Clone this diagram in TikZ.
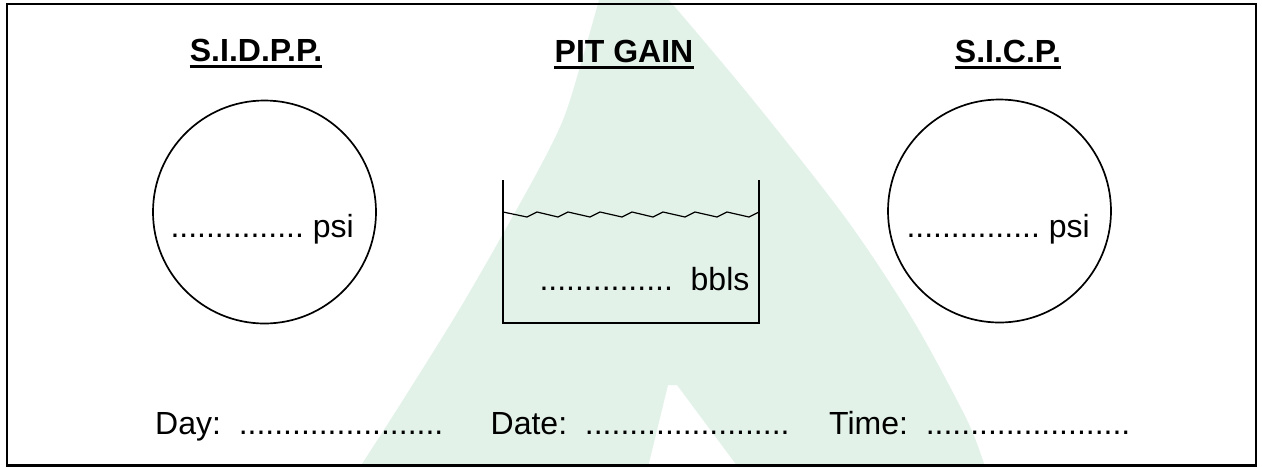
\documentclass[tikz,border=0pt]{standalone}
\usepackage{fontspec}
\setmainfont{Liberation Sans}
\definecolor{wm}{RGB}{226,242,232}
\begin{document}
\begin{tikzpicture}[x=1pt,y=-1pt,
  txt/.style={inner sep=0pt, anchor=base west, font=\fontsize{32}{38}\selectfont},
  ttl/.style={inner sep=0pt, anchor=base, font=\fontsize{32}{38}\selectfont\bfseries},
  uline/.style={line width=2.6pt},
  gauge/.style={draw, line width=1.7pt, circle, minimum size=223pt, inner sep=0pt},
  tankline/.style={line width=1.6pt},
  wave/.style={line width=1.2pt, line join=miter}]
\useasboundingbox (0,0) rectangle (1262,467);
\fill[white] (0,0) rectangle (1262,467);
% watermark
\fill[wm] plot[smooth, tension=0.5] coordinates {(360,467) (403,400) (465,300) (533,180) (563,120) (582,60) (599,0)}
  -- (669,0)
  -- plot[smooth, tension=0.5] coordinates {(669,0) (753,100) (847,220) (913,320) (967,420) (985,467)}
  -- (738,467) -- (677,385) -- (668,385) -- (648,467) -- cycle;
% border
\draw[line width=2.2pt] (7,4) rectangle (1256,465.5);
% titles
\node[ttl] (t1) at (256,61) {S.I.D.P.P.};
\node[ttl] (t2) at (624,62) {PIT GAIN};
\node[ttl] (t3) at (1008,62) {S.I.C.P.};
\draw[uline] ([yshift=-5.3pt]t1.base west) -- ([yshift=-5.3pt]t1.base east);
\draw[uline] ([yshift=-5.3pt]t2.base west) -- ([yshift=-5.3pt]t2.base east);
\draw[uline] ([yshift=-5.3pt]t3.base west) -- ([yshift=-5.3pt]t3.base east);
% gauges
\node[gauge] (g1) at (264.5,212) {};
\node[gauge] (g2) at (999.5,211) {};
\node[txt] (p1) at (170.3,237) {...............~psi};
\node[txt] (p2) at (906.3,237) {...............~psi};
% tank
\coordinate (tl) at (503,180);
\coordinate (bl) at (503,323);
\coordinate (br) at (759,323);
\coordinate (tr) at (759,180);
\draw[tankline] (tl) -- (bl) -- (br) -- (tr);
\draw[wave] (503,212)--(527,217)--(537,212)--(558,217)--(568,212)--(590,217)--(600,212)--(622,217)--(632,212)--(653,217)--(663,212)--(685,217)--(695,212)--(717,217)--(727,212)--(749,217)--(759,212);
\node[txt] (b1) at (539.3,290) {...............~~bbls};
% bottom line
\node[txt] (d1) at (155,434) {Day:~~.......................};
\node[txt] (d2) at (490.5,434) {Date:~~.......................};
\node[txt] (d3) at (829,434) {Time:~~.......................};
\end{tikzpicture}
\end{document}
